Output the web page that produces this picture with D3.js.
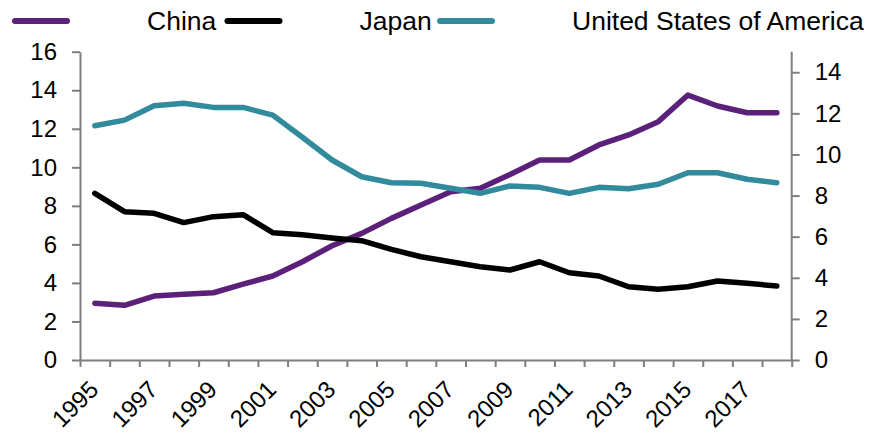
<!DOCTYPE html>
<html>
<head>
<meta charset="utf-8">
<script src="https://cdn.jsdelivr.net/npm/d3@7"></script>
<style>
  html, body { margin: 0; padding: 0; background: #fff; }
  svg { display: block; }
  text { font-family: "Liberation Sans", Arial, sans-serif; fill: #000; }
</style>
</head>
<body>
<svg id="chart" width="885" height="435"></svg>
<script>
const years = d3.range(1995, 2019).map(String);
const tickYears = ["1995","1997","1999","2001","2003","2005","2007","2009","2011","2013","2015","2017"];
const seriesNames = ["China", "Japan", "United States of America"];
const china = [2.94, 2.84, 3.32, 3.41, 3.49, 3.94, 4.36, 5.10, 5.93, 6.57, 7.35, 8.04, 8.73, 8.91, 9.63, 10.38, 10.38, 11.16, 11.68, 12.37, 13.75, 13.18, 12.83, 12.83];
const japan = [8.65, 7.70, 7.61, 7.13, 7.44, 7.54, 6.61, 6.50, 6.33, 6.19, 5.74, 5.36, 5.10, 4.84, 4.67, 5.10, 4.53, 4.36, 3.80, 3.67, 3.80, 4.10, 3.98, 3.84];
const usa = [12.16, 12.45, 13.20, 13.32, 13.11, 13.11, 12.71, 11.56, 10.38, 9.51, 9.20, 9.17, 8.91, 8.65, 9.03, 8.96, 8.65, 8.96, 8.89, 9.12, 9.72, 9.72, 9.38, 9.20];
const leftTicks = [0, 2, 4, 6, 8, 10, 12, 14, 16];
const rightTicks = [0, 2, 4, 6, 8, 10, 12, 14];
const colors = ["#5b2079", "#000000", "#318b9c"];

const svg = d3.select("#chart");
const mLeft = 80, mRight = 791.7, mTop = 51.7, mBottom = 360;

const x = d3.scaleBand().domain(years).range([mLeft, mRight]).padding(0);
const xEdge = d3.scaleLinear().domain([0, years.length]).range([mLeft, mRight]);
const yL = d3.scaleLinear().domain([0, 16]).range([mBottom, mTop]);
const yR = d3.scaleLinear().domain([0, 15]).range([mBottom, mTop]);

const axisColor = "#7f7f7f";
function styleAxis(g) {
  g.selectAll("path, line").attr("stroke", axisColor).attr("stroke-width", 2);
  g.selectAll("text").style("font-size", "24px").attr("fill", "#000");
}

// Left axis
svg.append("g").attr("transform", `translate(${mLeft},0)`)
  .call(d3.axisLeft(yL).tickValues(leftTicks).tickSize(8).tickSizeOuter(0).tickPadding(15).tickFormat(d3.format("d")))
  .call(styleAxis);

// Right axis
const gR = svg.append("g").attr("transform", `translate(${mRight},0)`)
  .call(d3.axisRight(yR).tickValues(rightTicks).tickSize(8).tickSizeOuter(0).tickPadding(15).tickFormat(d3.format("d")))
  .call(styleAxis);
gR.select("path.domain").attr("d", `M0,${mBottom}V${mTop}`);

// Bottom axis (ticks at band edges)
svg.append("g").attr("transform", `translate(0,${mBottom})`)
  .call(d3.axisBottom(xEdge).tickValues(d3.range(years.length + 1)).tickSize(7).tickSizeOuter(0).tickFormat(""))
  .call(styleAxis);

// X labels
svg.append("g").selectAll("text").data(tickYears).join("text")
  .attr("text-anchor", "end")
  .style("font-size", "24px")
  .attr("transform", d => `translate(${x(d) + x.bandwidth() / 2 + 5},${mBottom + 31}) rotate(-45)`)
  .text(d => d);

// Lines
const allSeries = [china, japan, usa];
const line = d3.line()
  .x((d, i) => x(years[i]) + x.bandwidth() / 2)
  .y(d => yL(d));
svg.append("g").selectAll("path").data(allSeries).join("path")
  .attr("d", d => line(d))
  .attr("fill", "none")
  .attr("stroke", (d, i) => colors[i])
  .attr("stroke-width", 5.5)
  .attr("stroke-linejoin", "round")
  .attr("stroke-linecap", "round");

// Legend
const legend = svg.append("g");
const entry = legend.selectAll("g").data(seriesNames).join("g")
  .attr("transform", (d, i) => `translate(${13 + i * 212.5},0)`);
entry.append("line")
  .attr("x1", 2).attr("x2", 54).attr("y1", 21).attr("y2", 21)
  .attr("stroke", (d, i) => colors[i])
  .attr("stroke-width", 6)
  .attr("stroke-linecap", "round");
entry.append("text")
  .attr("x", 134).attr("y", 30)
  .style("font-size", "26.5px")
  .text(d => d);
</script>
</body>
</html>
